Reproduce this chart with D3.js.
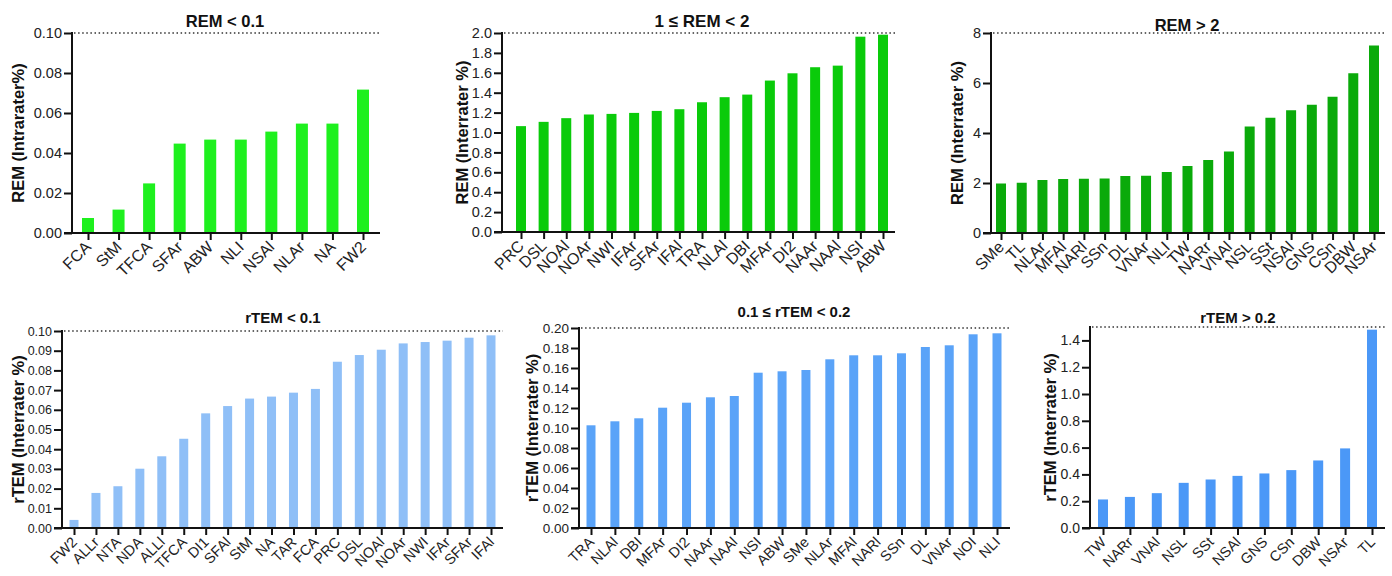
<!DOCTYPE html>
<html>
<head>
<meta charset="utf-8">
<script src="https://cdn.jsdelivr.net/npm/d3@7"></script>
<style>
    body { margin: 0; background: #fff; }
    svg { display: block; font-family: "Liberation Sans", Arial, sans-serif; }
</style>
</head>
<body>
<svg id="chart" width="1392" height="576"></svg>
<script>
// REM < 0.1
const remLowNames = ['FCA', 'StM', 'TFCA', 'SFAr', 'ABW', 'NLI', 'NSAl', 'NLAr', 'NA', 'FW2'];
const remLowValues = [0.0075, 0.0117, 0.0248, 0.0447, 0.0467, 0.0467, 0.0507, 0.0547, 0.0547, 0.0717];
const remLowTicks = [0, 0.02, 0.04, 0.06, 0.08, 0.10];

// 1 <= REM < 2
const remMidNames = ['PRC', 'DSL', 'NOAl', 'NOAr', 'NWI', 'IFAr', 'SFAr', 'IFAl', 'TRA', 'NLAl', 'DBI', 'MFAr', 'DI2', 'NAAr', 'NAAl', 'NSI', 'ABW'];
const remMidValues = [1.064, 1.107, 1.144, 1.181, 1.187, 1.197, 1.217, 1.234, 1.304, 1.355, 1.381, 1.522, 1.595, 1.656, 1.672, 1.963, 1.983];
const remMidTicks = [0, 0.2, 0.4, 0.6, 0.8, 1.0, 1.2, 1.4, 1.6, 1.8, 2.0];

// REM > 2
const remHighNames = ['SMe', 'TL', 'NLAr', 'MFAl', 'NARl', 'SSn', 'DL', 'VNAr', 'NLI', 'TW', 'NARr', 'VNAl', 'NSL', 'SSt', 'NSAl', 'GNS', 'CSn', 'DBW', 'NSAr'];
const remHighValues = [1.98, 2.01, 2.12, 2.16, 2.17, 2.18, 2.28, 2.29, 2.44, 2.68, 2.92, 3.26, 4.26, 4.61, 4.91, 5.13, 5.45, 6.39, 7.50];
const remHighTicks = [0, 2, 4, 6, 8];

// rTEM < 0.1
const rtemLowNames = ['FW2', 'ALLr', 'NTA', 'NDA', 'ALLl', 'TFCA', 'DI1', 'SFAl', 'StM', 'NA', 'TAR', 'FCA', 'PRC', 'DSL', 'NOAl', 'NOAr', 'NWI', 'IFAr', 'SFAr', 'IFAl'];
const rtemLowValues = [0.0041, 0.0178, 0.0212, 0.0301, 0.0364, 0.0453, 0.0582, 0.0619, 0.0657, 0.0667, 0.0687, 0.0706, 0.0844, 0.0878, 0.0905, 0.0937, 0.0944, 0.0951, 0.0966, 0.0978];
const rtemLowTicks = [0, 0.01, 0.02, 0.03, 0.04, 0.05, 0.06, 0.07, 0.08, 0.09, 0.10];

// 0.1 <= rTEM < 0.2
const rtemMidNames = ['TRA', 'NLAl', 'DBI', 'MFAr', 'DI2', 'NAAr', 'NAAl', 'NSI', 'ABW', 'SMe', 'NLAr', 'MFAl', 'NARl', 'SSn', 'DL', 'VNAr', 'NOI', 'NLI'];
const rtemMidValues = [0.1027, 0.1067, 0.1097, 0.1203, 0.1253, 0.1307, 0.132, 0.1553, 0.1567, 0.158, 0.1687, 0.1727, 0.1727, 0.1747, 0.181, 0.1827, 0.1937, 0.1947];
const rtemMidTicks = [0, 0.02, 0.04, 0.06, 0.08, 0.10, 0.12, 0.14, 0.16, 0.18, 0.20];

// rTEM > 0.2
const rtemHighNames = ['TW', 'NARr', 'VNAl', 'NSL', 'SSt', 'NSAl', 'GNS', 'CSn', 'DBW', 'NSAr', 'TL'];
const rtemHighValues = [0.213, 0.232, 0.26, 0.337, 0.362, 0.389, 0.407, 0.432, 0.504, 0.594, 1.48];
const rtemHighTicks = [0, 0.2, 0.4, 0.6, 0.8, 1.0, 1.2, 1.4];

const svg = d3.select('#chart');

function createBarChart(names, values, ticks, opts) {
    const g = svg.append('g');

    const y = d3.scaleLinear()
        .domain([0, opts.max])
        .range([opts.bottom, opts.top]);

    const x = d3.scalePoint()
        .domain(names)
        .range([opts.first, opts.last]);

    const data = names.map((name, i) => ({ name: name, value: values[i] }));

    // dotted line at the top of the range
    g.append('line')
        .attr('x1', opts.left + 2)
        .attr('x2', opts.right)
        .attr('y1', y(opts.max))
        .attr('y2', y(opts.max))
        .attr('stroke', '#333')
        .attr('stroke-width', 1.5)
        .attr('stroke-dasharray', '1.5,2.6');

    g.selectAll('rect.bar')
        .data(data)
        .enter()
        .append('rect')
        .attr('class', 'bar')
        .attr('x', d => x(d.name) - opts.barWidth / 2)
        .attr('width', opts.barWidth)
        .attr('y', d => y(d.value))
        .attr('height', d => y(0) - y(d.value))
        .attr('fill', opts.color);

    // y axis
    const yAxis = g.append('g')
        .attr('transform', `translate(${opts.left},0)`)
        .call(d3.axisLeft(y).tickValues(ticks).tickFormat(d3.format(opts.fmt)).tickSize(8).tickPadding(2));
    yAxis.select('.domain').remove();
    yAxis.selectAll('.tick line').attr('stroke', '#111').attr('stroke-width', 2);
    yAxis.selectAll('.tick text')
        .attr('fill', '#222')
        .style('font-size', opts.tickFont + 'px')
        .style('font-family', '"Liberation Sans", Arial, sans-serif');
    g.append('line')
        .attr('x1', opts.left).attr('x2', opts.left)
        .attr('y1', y(opts.max) - 1).attr('y2', y(0) + 1)
        .attr('stroke', '#111').attr('stroke-width', 2);

    // x axis
    const xAxis = g.append('g')
        .attr('transform', `translate(0,${y(0)})`)
        .call(d3.axisBottom(x).tickSize(7).tickFormat(''));
    xAxis.select('.domain').remove();
    xAxis.selectAll('.tick line').attr('stroke', '#111').attr('stroke-width', 2);
    g.append('line')
        .attr('x1', opts.left - 8).attr('x2', opts.right)
        .attr('y1', y(0)).attr('y2', y(0))
        .attr('stroke', '#111').attr('stroke-width', 2);

    g.selectAll('text.xlabel')
        .data(names)
        .enter()
        .append('text')
        .attr('class', 'xlabel')
        .attr('text-anchor', 'end')
        .attr('transform', d => `translate(${x(d) + 4},${y(0) + 15}) rotate(-45)`)
        .attr('fill', '#222')
        .style('font-size', opts.labelFont + 'px')
        .text(d => d);

    g.append('text')
        .attr('text-anchor', 'middle')
        .attr('x', opts.titleX)
        .attr('y', opts.titleY)
        .style('font-size', opts.titleFont + 'px')
        .style('font-weight', 'bold')
        .attr('fill', '#111')
        .text(opts.title);

    g.append('text')
        .attr('text-anchor', 'middle')
        .attr('transform', `translate(${opts.labelX},${(opts.top + opts.bottom) / 2}) rotate(-90)`)
        .style('font-size', '16.5px')
        .style('font-weight', 'bold')
        .attr('fill', '#111')
        .text(opts.yLabel);
}

createBarChart(remLowNames, remLowValues, remLowTicks, {
    title: 'REM < 0.1', yLabel: 'REM (Intrarater%)', max: 0.10, fmt: '.2f',
    left: 72, right: 380, first: 88, last: 363, top: 33, bottom: 233,
    barWidth: 12, color: '#1ef01e', tickFont: 14.5, labelFont: 16,
    titleX: 225, titleY: 27, titleFont: 16.5, labelX: 24
});

createBarChart(remMidNames, remMidValues, remMidTicks, {
    title: '1 \u2264 REM < 2', yLabel: 'REM (Interrater %)', max: 2.0, fmt: '.1f',
    left: 502, right: 895, first: 521, last: 883, top: 33, bottom: 232,
    barWidth: 10, color: '#0acb0a', tickFont: 14.5, labelFont: 16,
    titleX: 702, titleY: 27, titleFont: 17, labelX: 468
});

createBarChart(remHighNames, remHighValues, remHighTicks, {
    title: 'REM > 2', yLabel: 'REM (Interrater %)', max: 8, fmt: 'd',
    left: 991, right: 1385, first: 1001, last: 1374, top: 33, bottom: 233,
    barWidth: 10, color: '#0aaa0a', tickFont: 14.5, labelFont: 16,
    titleX: 1187, titleY: 31, titleFont: 16.5, labelX: 963
});

createBarChart(rtemLowNames, rtemLowValues, rtemLowTicks, {
    title: 'rTEM < 0.1', yLabel: 'rTEM (Interrater %)', max: 0.10, fmt: '.2f',
    left: 62, right: 503, first: 74, last: 491, top: 331, bottom: 528,
    barWidth: 9, color: '#8fbff7', tickFont: 12.5, labelFont: 14.5,
    titleX: 283, titleY: 323, titleFont: 15, labelX: 24
});

createBarChart(rtemMidNames, rtemMidValues, rtemMidTicks, {
    title: '0.1  \u2264 rTEM < 0.2', yLabel: 'rTEM (Interrater %)', max: 0.20, fmt: '.2f',
    left: 579, right: 1010, first: 591, last: 997, top: 328, bottom: 528,
    barWidth: 9, color: '#5aa3f8', tickFont: 13.5, labelFont: 14.5,
    titleX: 794, titleY: 317, titleFont: 15, labelX: 538
});

createBarChart(rtemHighNames, rtemHighValues, rtemHighTicks, {
    title: 'rTEM > 0.2', yLabel: 'rTEM (Interrater %)', max: 1.5, fmt: '.1f',
    left: 1090, right: 1385, first: 1103, last: 1372, top: 327, bottom: 528,
    barWidth: 10, color: '#4b98f7', tickFont: 14, labelFont: 14.5,
    titleX: 1238, titleY: 323, titleFont: 15, labelX: 1056
});
</script>
</body>
</html>
